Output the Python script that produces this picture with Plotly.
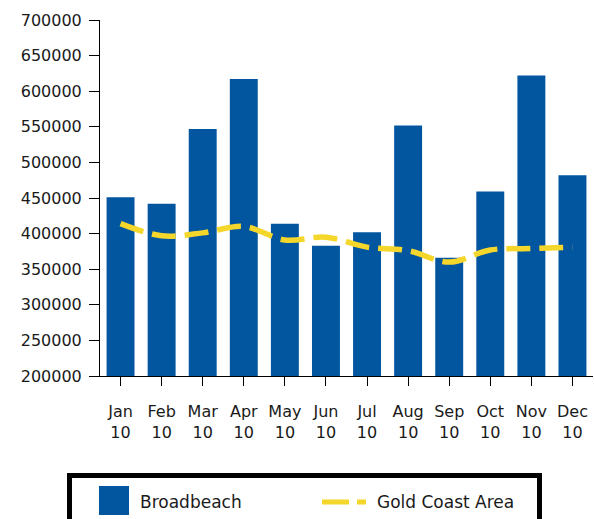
import plotly.graph_objects as go

# ---- data ----
months = ["Jan<br>10", "Feb<br>10", "Mar<br>10", "Apr<br>10", "May<br>10", "Jun<br>10",
          "Jul<br>10", "Aug<br>10", "Sep<br>10", "Oct<br>10", "Nov<br>10", "Dec<br>10"]
broadbeach = [451000, 442000, 547000, 617000, 414000, 383000,
              402000, 552000, 366000, 459000, 622000, 482000]
gold_coast = [414000, 397000, 401000, 410000, 391000, 395000,
              381000, 376000, 360000, 377000, 379000, 381000]
y_ticks = [200000, 250000, 300000, 350000, 400000, 450000, 500000, 550000, 600000, 650000, 700000]

BLUE = "#02569F"
YELLOW = "#F5D62A"
FONT = "DejaVu Sans"
TXT = "#1a1a1a"

W, H = 594, 519
ML, MR, MT, MB = 100, 1, 20, 143
PW, PH = W - ML - MR, H - MT - MB


def px(x):
    return (x - ML) / PW


def py(y):
    return (H - MB - y) / PH


fig = go.Figure()
fig.add_trace(go.Bar(x=months, y=broadbeach, name="Broadbeach",
                     marker=dict(color=BLUE, line=dict(width=0)), width=0.68,
                     showlegend=False))
fig.add_trace(go.Scatter(x=months, y=gold_coast, name="Gold Coast Area", mode="lines",
                         line=dict(color=YELLOW, width=5.5, dash="24px,9px", shape="spline"),
                         showlegend=False))

shapes = [
    dict(type="rect", xref="paper", yref="paper", x0=px(69.5), x1=px(539.5),
         y0=py(475.5), y1=py(540), line=dict(color="black", width=5), fillcolor="white",
         layer="above"),
    dict(type="rect", xref="paper", yref="paper", x0=px(99), x1=px(129),
         y0=py(486), y1=py(515), line=dict(width=0), fillcolor=BLUE, layer="above"),
    dict(type="line", xref="paper", yref="paper", x0=px(322), x1=px(366),
         y0=py(502), y1=py(502), line=dict(color=YELLOW, width=5, dash="27px,8px"),
         layer="above"),
]
annotations = [
    dict(text="Broadbeach", xref="paper", yref="paper", x=px(138), y=py(502),
         xanchor="left", yanchor="middle", showarrow=False,
         font=dict(family=FONT, size=17, color=TXT)),
    dict(text="Gold Coast Area", xref="paper", yref="paper", x=px(375), y=py(502),
         xanchor="left", yanchor="middle", showarrow=False,
         font=dict(family=FONT, size=17, color=TXT)),
]

fig.update_layout(
    width=W, height=H,
    margin=dict(l=ML, r=MR, t=MT, b=MB, autoexpand=False),
    paper_bgcolor="white", plot_bgcolor="white",
    showlegend=False,
    bargap=0.32,
    shapes=shapes, annotations=annotations,
    font=dict(family=FONT, size=16, color=TXT),
)
fig.update_xaxes(showline=True, linecolor="black", linewidth=1, ticks="outside",
                 ticklen=9, tickcolor="black", tickwidth=1, showgrid=False,
                 ticklabelstandoff=12, tickfont=dict(family=FONT, size=16, color=TXT))
fig.update_yaxes(range=[200000, 700000], tickvals=y_ticks, showline=True, linecolor="black",
                 linewidth=1, ticks="outside", ticklen=10, tickcolor="black", tickwidth=1,
                 showgrid=False, zeroline=False, ticklabelstandoff=4, tickformat="d",
                 tickfont=dict(family=FONT, size=16, color=TXT))

fig.write_html("out.html")
